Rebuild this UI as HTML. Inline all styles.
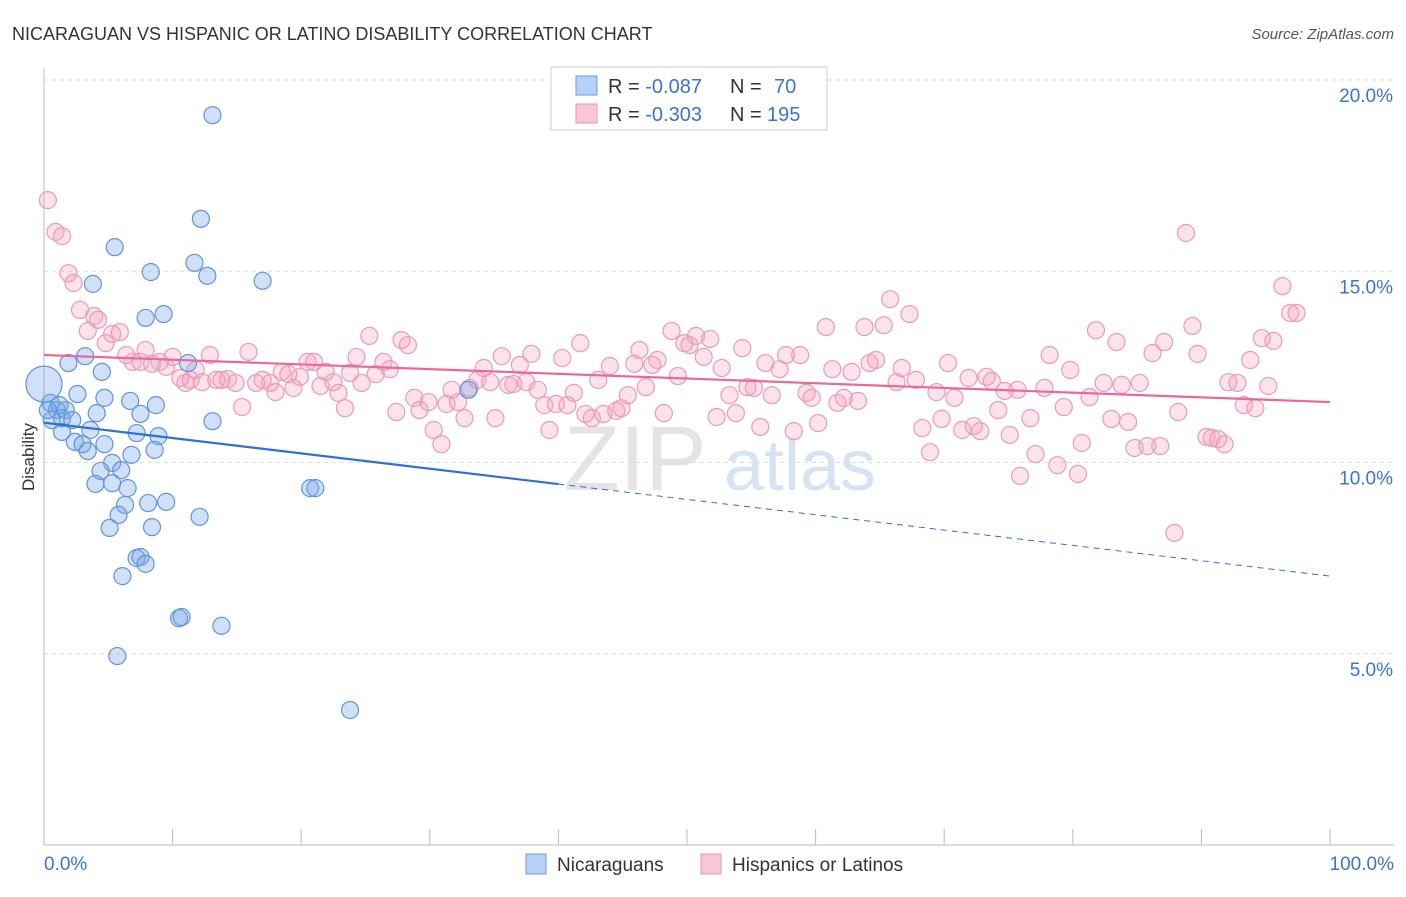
<!DOCTYPE html>
<html><head><meta charset="utf-8"><style>
body{margin:0;background:#fff;font-family:"Liberation Sans",sans-serif;}
svg text{font-family:"Liberation Sans",sans-serif;}
</style></head><body>
<svg id="chart" width="1406" height="892" viewBox="0 0 1406 892" xmlns="http://www.w3.org/2000/svg">
<text x="12" y="40" font-size="18" fill="#333">NICARAGUAN VS HISPANIC OR LATINO DISABILITY CORRELATION CHART</text>
<text x="1394" y="39" font-size="15" fill="#555" text-anchor="end" font-style="italic">Source: ZipAtlas.com</text>
<text x="34" y="457" font-size="17" fill="#333" text-anchor="middle" transform="rotate(-90 34 457)">Disability</text>
<g><text x="635" y="490" font-size="92" fill="#e4e4e4" text-anchor="middle" font-family="Liberation Serif">ZIP</text><text x="800" y="490" font-size="72" fill="#d6e3f3" text-anchor="middle">atlas</text></g>
<g id="grid"></g><g id="axes"></g><g id="pts"></g><g id="lines"></g>
<g>
<rect x="551" y="67" width="276" height="63" fill="#fff" stroke="#ccc"/>
<rect x="576" y="76" width="21" height="19" fill="#b7d0f5" stroke="#6a9ee0"/>
<rect x="576" y="104" width="21" height="19" fill="#f9c6d6" stroke="#ec92b0"/>
<text x="608" y="93" font-size="20" fill="#333">R = <tspan fill="#3a73d4">-0.087</tspan><tspan x="730">N = </tspan><tspan x="774" fill="#3a73d4">70</tspan></text>
<text x="608" y="121" font-size="20" fill="#333">R = <tspan fill="#3a73d4">-0.303</tspan><tspan x="730">N = </tspan><tspan x="767" fill="#3a73d4">195</tspan></text>
</g>
<g>
<rect x="526" y="854" width="20" height="20" fill="#b7d0f5" stroke="#6a9ee0"/>
<text x="557" y="871" font-size="19" fill="#333">Nicaraguans</text>
<rect x="701" y="854" width="20" height="20" fill="#f9c6d6" stroke="#ec92b0"/>
<text x="732" y="871" font-size="19" fill="#333">Hispanics or Latinos</text>
</g>
</svg>
<script>
const yTicks=[5,10,15,20];
const yTickLabels=["5.0%","10.0%","15.0%","20.0%"];
const xTickLabels=["0.0%","100.0%"];
const blueX=[13.1,12.2,5.5,8.3,11.7,12.7,17.0,3.8,7.9,9.3,3.2,1.9,11.2,4.5,2.6,4.7,6.7,8.7,0.5,1.0,1.7,4.1,7.5,13.1,1.4,2.2,3.6,7.2,8.9,1.4,2.4,3.0,3.4,8.6,6.8,5.3,4.4,6.0,4.0,5.3,6.5,20.7,21.1,6.3,8.1,9.5,5.8,12.1,5.1,8.4,7.2,7.5,7.9,6.1,10.5,10.7,13.8,5.7,23.8,33.0,0.6,1.2,4.7,0.3];
const blueY=[19.08,16.37,15.63,14.98,15.22,14.88,14.75,14.67,13.78,13.88,12.78,12.6,12.6,12.37,11.79,11.69,11.61,11.5,11.56,11.37,11.37,11.29,11.27,11.08,11.16,11.11,10.85,10.77,10.69,10.8,10.54,10.48,10.3,10.33,10.2,9.99,9.78,9.8,9.44,9.46,9.33,9.33,9.33,8.89,8.94,8.97,8.63,8.58,8.29,8.31,7.5,7.53,7.35,7.03,5.93,5.96,5.73,4.94,3.53,11.9,11.11,11.5,10.48,11.37];
const bigBlue=[0,12.05];
const pinkX=[0.3,0.9,1.4,1.9,2.3,2.8,3.4,3.9,4.2,4.8,5.3,5.9,6.4,6.9,7.5,7.9,8.4,9.0,9.5,10.0,10.6,11.0,11.4,11.8,12.3,12.9,13.4,13.8,14.3,14.9,15.4,15.9,16.5,17.0,17.6,18.0,18.5,19.0,19.4,19.9,20.5,21.0,21.5,21.9,22.5,22.9,23.4,23.8,24.3,24.7,25.3,25.8,26.4,26.9,27.4,27.8,28.3,28.8,29.2,29.9,30.3,30.9,31.3,31.7,32.2,32.7,33.1,33.7,34.2,34.7,35.1,35.6,36.1,36.5,37.0,37.5,37.9,38.4,38.9,39.3,39.8,40.3,40.7,41.2,41.7,42.1,42.6,43.1,43.5,44.0,44.5,44.9,45.4,45.9,46.3,46.8,47.3,47.7,48.2,48.8,49.3,49.8,50.2,50.7,51.3,51.8,52.3,52.7,53.3,53.8,54.3,54.7,55.2,55.7,56.1,56.6,57.2,57.7,58.3,58.8,59.3,59.7,60.2,60.8,61.3,61.7,62.2,62.8,63.3,63.8,64.2,64.7,65.3,65.8,66.3,66.7,67.3,67.8,68.3,68.9,69.4,69.8,70.3,70.8,71.4,71.9,72.3,72.8,73.3,73.7,74.2,74.7,75.1,75.7,75.9,76.7,77.1,77.8,78.2,78.8,79.3,79.8,80.4,80.7,81.3,81.8,82.4,83.0,83.4,83.8,84.3,84.8,85.2,85.8,86.2,86.8,87.1,87.9,88.2,88.8,89.3,89.7,90.4,90.8,91.3,91.8,92.1,92.8,93.3,93.8,94.2,94.7,95.2,95.6,96.3,96.9,97.4];
const pinkY=[16.86,16.03,15.92,14.95,14.69,13.99,13.44,13.83,13.73,13.12,13.36,13.41,12.81,12.63,12.63,12.94,12.58,12.63,12.5,12.76,12.21,12.08,12.16,12.42,12.1,12.81,12.16,12.16,12.18,12.08,11.45,12.89,12.08,12.16,12.08,11.84,12.37,12.31,11.95,12.24,12.63,12.63,12.0,12.37,12.1,11.82,11.42,12.34,12.76,12.08,13.31,12.31,12.63,12.44,11.32,13.2,13.07,11.69,11.37,11.58,10.85,10.48,11.53,11.9,11.58,11.16,11.95,12.16,12.47,12.1,11.16,12.78,12.03,12.05,12.55,12.1,12.84,11.9,11.5,10.85,11.53,12.73,11.5,11.82,13.12,11.27,11.16,12.16,11.27,12.52,11.35,11.42,11.76,12.58,12.94,11.97,12.55,12.68,11.29,13.44,12.26,13.12,13.07,13.31,12.76,13.23,11.19,12.47,11.76,11.29,12.99,11.97,11.95,10.93,12.6,11.76,12.44,12.81,10.82,12.81,11.82,11.69,11.03,13.54,12.44,11.56,11.69,12.37,11.61,13.54,12.6,12.68,13.59,14.27,12.1,12.47,13.88,12.16,10.9,10.27,11.84,11.14,12.6,11.69,10.85,12.21,10.95,10.82,12.24,12.13,11.37,11.87,10.72,11.9,9.65,11.16,10.22,11.95,12.81,9.93,11.45,12.42,9.7,10.51,11.71,13.46,12.08,11.14,13.15,12.03,11.06,10.38,12.08,10.43,12.86,10.43,13.15,8.16,11.32,16.0,13.57,12.84,10.67,10.64,10.61,10.48,12.1,12.08,11.5,12.68,11.42,13.25,12.0,13.18,14.61,13.91,13.91];
const blueTrend=[11.04,7.03];
const pinkTrend=[12.81,11.58];
const NS="http://www.w3.org/2000/svg";
const X=v=>44+v*12.86, Y=v=>845-v*38.25;
function mk(tag,attrs,parent){const e=document.createElementNS(NS,tag);for(const k in attrs)e.setAttribute(k,attrs[k]);document.getElementById(parent).appendChild(e);return e;}
yTicks.forEach((t,i)=>{
 const g=mk('line',{x1:44,x2:1394,y1:Y(t),y2:Y(t),stroke:'#ddd','stroke-dasharray':'4 4'},'grid');
 
 
 const l=mk('text',{x:1393,y:Y(t)+22,'font-size':19,fill:'#3a73d4','text-anchor':'end'},'axes');
 l.textContent=yTickLabels[i];
 
 
});
const tg=mk('line',{x1:44,x2:1394,y1:Y(20),y2:Y(20),stroke:'#ddd','stroke-dasharray':'4 4'},'grid');


const xa=mk('line',{x1:44,x2:1394,y1:845,y2:845,stroke:'#bbb'},'axes');


const ya=mk('line',{x1:44,x2:44,y1:68,y2:845,stroke:'#bbb'},'axes');


for(let i=0;i<=10;i++){
 const t=mk('line',{x1:X(i*10),x2:X(i*10),y1:829,y2:845,stroke:'#bbb'},'axes');
 
 
}
[[0,'start',44],[1,'end',1394]].forEach(([i,a,x])=>{
 const l=mk('text',{x:x,y:870,'font-size':19,fill:'#3a73d4','text-anchor':a},'axes');
 l.textContent=xTickLabels[i];
 
 
});
pinkX.forEach((v,i)=>{
 const c=mk('circle',{cx:X(v),cy:Y(pinkY[i]),r:8.5,fill:'rgba(243,160,190,0.3)',stroke:'#ec9ab5','stroke-width':1.2},'pts');
 
 
});
blueX.forEach((v,i)=>{
 const c=mk('circle',{cx:X(v),cy:Y(blueY[i]),r:8.5,fill:'rgba(120,165,230,0.35)',stroke:'#5f95dc','stroke-width':1.2},'pts');
 
 
});
const bb=mk('circle',{cx:X(bigBlue[0]),cy:Y(bigBlue[1]),r:18,fill:'rgba(120,165,230,0.35)',stroke:'#5f95dc','stroke-width':1.2},'pts');


const bsplit=40;
const byAt=v=>blueTrend[0]+(blueTrend[1]-blueTrend[0])*v/100;
const b1=mk('line',{x1:X(0),y1:Y(byAt(0)),x2:X(bsplit),y2:Y(byAt(bsplit)),stroke:'#2f6fd6','stroke-width':2.2},'lines');


const b2=mk('line',{x1:X(bsplit),y1:Y(byAt(bsplit)),x2:X(100),y2:Y(byAt(100)),stroke:'#2f6fd6','stroke-width':1,'stroke-dasharray':'6 5'},'lines');


const p1=mk('line',{x1:X(0),y1:Y(pinkTrend[0]),x2:X(100),y2:Y(pinkTrend[1]),stroke:'#e8699a','stroke-width':2.2},'lines');


</script>
</body></html>
